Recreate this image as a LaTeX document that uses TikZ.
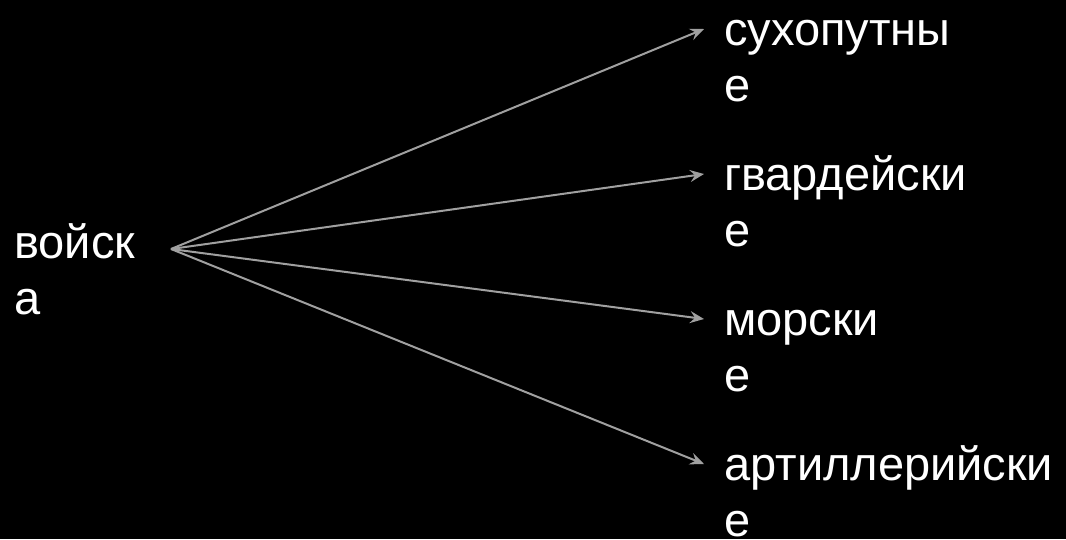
\documentclass[tikz,border=0pt]{standalone}
\usepackage{fontspec}
\setmainfont{Liberation Sans}
\usetikzlibrary{arrows.meta}
\definecolor{arrowgray}{RGB}{160,160,160}

\begin{document}
\begin{tikzpicture}[x=1pt, y=-1pt,
  every node/.style={white, inner sep=0pt, align=left, anchor=base west,
    font=\fontsize{47}{56}\selectfont},
  branch/.style={draw=arrowgray, line width=2pt,
    -{Stealth[length=14pt,width=12pt,inset=5pt]}}]
  \def\xr{724} % x of the right labels
  \def\dy{145} % distance between the right labels
  \def\lh{56}  % line height (base anchor sits on the last line)

  % BACKGROUND
  \fill[black] (0,0) rectangle (1066,539);
  \useasboundingbox (0,0) rectangle (1066,539);

  % LABELS
  \node (voiska) at (14,258+\lh) {войск\\а};
  \node (sukhoputnye)    at (\xr,45+\lh)        {сухопутны\\е};
  \node (gvardeiskie)    at (\xr,45+\dy+\lh)    {гвардейски\\е};
  \node (morskie)        at (\xr,45+2*\dy+\lh)  {морски\\е};
  \node (artilleriiskie) at (\xr,45+3*\dy+\lh)  {артиллерийски\\е};

  % ARROWS
  \coordinate (hub) at ([xshift=157pt,yshift=65pt]voiska.base west);
  \foreach \t in {sukhoputnye,gvardeiskie,morskie,artilleriiskie}
    \draw[branch] (hub) -- ([xshift=-20pt,yshift=72pt]\t.base west);

\end{tikzpicture}
\end{document}
